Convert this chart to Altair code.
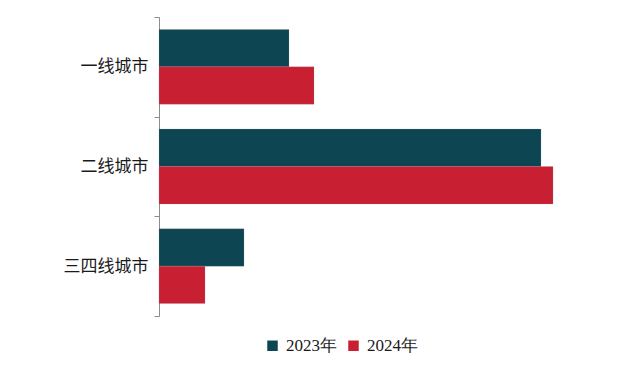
import altair as alt
import pandas as pd

categories = ["一线城市", "二线城市", "三四线城市"]
years = ["2023年", "2024年"]
values_2023 = [13.0, 38.2, 8.5]
values_2024 = [15.5, 39.4, 4.6]
colors = ["#0D4652", "#C91F33"]

rows = []
for c, v in zip(categories, values_2023):
    rows.append({"city": c, "year": years[0], "value": v})
for c, v in zip(categories, values_2024):
    rows.append({"city": c, "year": years[1], "value": v})
df = pd.DataFrame(rows)

chart = alt.Chart(df).mark_bar(stroke="#8a8a8a", strokeWidth=0.4, strokeOpacity=0.5).encode(
    y=alt.Y("city:N", sort=categories, title=None,
            scale=alt.Scale(paddingInner=0, paddingOuter=0),
            axis=alt.Axis(tickBand="extent", domainColor="#8c8c8c", tickColor="#8c8c8c",
                          tickSize=5, labelFont="Noto Sans CJK SC", labelFontSize=17,
                          labelColor="#1a1a1a", labelPadding=6, domainWidth=1, tickWidth=1)),
    yOffset=alt.YOffset("year:N", sort=years,
                        scale=alt.Scale(paddingInner=0, paddingOuter=0.333)),
    x=alt.X("value:Q", title=None, axis=None, scale=alt.Scale(domain=[0, 39.4], nice=False)),
    color=alt.Color("year:N", sort=years, scale=alt.Scale(domain=years, range=colors),
                    legend=alt.Legend(title=None, orient="none", direction="horizontal",
                                      legendX=105, legendY=320, symbolType="square",
                                      symbolSize=110, symbolStrokeWidth=0,
                                      labelFont="Liberation Serif, Times New Roman, serif",
                                      labelFontSize=17,
                                      labelColor="#1a1a1a", columnPadding=8,
                                      labelOffset=5, padding=0)),
).properties(
    width=394, height=299,
    autosize=alt.AutoSizeParams(type="none"),
    padding={"left": 151, "top": 9, "right": 79, "bottom": 53},
).configure_view(stroke=None)

chart.save("out.html", embed_options={"renderer": "svg", "actions": False})
